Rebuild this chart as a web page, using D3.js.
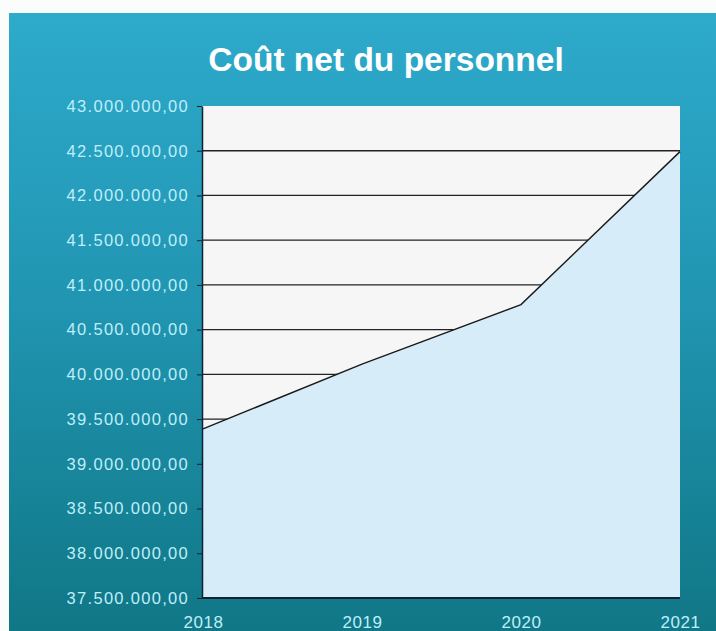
<!DOCTYPE html>
<html><head><meta charset="utf-8">
<script src="https://cdn.jsdelivr.net/npm/d3@7"></script>
<style>html,body{margin:0;padding:0;background:#fff;}svg{display:block;}</style>
</head><body>
<script>
const years = ["2018","2019","2020","2021"];
const values = [39390000, 40115000, 40780000, 42490000];
const yTicks = [37500000,38000000,38500000,39000000,39500000,40000000,40500000,41000000,41500000,42000000,42500000,43000000];
const title = "Coût net du personnel";

const W=716,H=631;
const svg=d3.select("body").append("svg").attr("width",W).attr("height",H);
const defs=svg.append("defs");
const g=defs.append("linearGradient").attr("id","bg").attr("x1",0).attr("y1",0).attr("x2",0).attr("y2",1);
g.append("stop").attr("offset","0%").attr("stop-color","#2eaacb");
g.append("stop").attr("offset","45%").attr("stop-color","#2196b3");
g.append("stop").attr("offset","100%").attr("stop-color","#107786");
svg.append("rect").attr("x",0).attr("y",0).attr("width",W).attr("height",H).attr("fill","#fbfdfd");
svg.append("rect").attr("x",9).attr("y",13).attr("width",W-9).attr("height",H-13).attr("fill","url(#bg)");

const L=202,R=680,T=106,B=598;
const x=d3.scalePoint().domain(years).range([L+1,R]);
const y=d3.scaleLinear().domain([37500000,43000000]).range([B,T]);

svg.append("rect").attr("x",L).attr("y",T).attr("width",R-L).attr("height",B-T).attr("fill","#f6f6f6");

const fmt=v=>d3.format(",.2f")(v).replace(/,/g,"X").replace(".",",").replace(/X/g,".");

// gridlines
svg.append("g").selectAll("line").data(yTicks.filter(v=>v>37500000&&v<43000000)).join("line")
  .attr("x1",L).attr("x2",R).attr("y1",d=>y(d)).attr("y2",d=>y(d))
  .attr("stroke","#222").attr("stroke-width",1.3);

const pts=years.map((yr,i)=>({yr,v:values[i]}));
svg.append("path").datum(pts)
  .attr("d",d3.area().x(d=>x(d.yr)).y0(B).y1(d=>y(d.v)))
  .attr("fill","#d6ecf9");
svg.append("path").datum(pts)
  .attr("d",d3.line().x(d=>x(d.yr)).y(d=>y(d.v)))
  .attr("fill","none").attr("stroke","#1a1a1a").attr("stroke-width",1.4);

// axes
const ya=svg.append("g").attr("transform",`translate(${L},0)`)
  .call(d3.axisLeft(y).tickValues(yTicks).tickFormat(fmt).tickSize(5).tickSizeOuter(0));
ya.select(".domain").attr("stroke","#123").attr("stroke-width",1.5);
ya.selectAll(".tick line").attr("stroke","#123");
ya.selectAll("text").attr("fill","#bfeefa").attr("font-family","Arial, 'Liberation Sans', sans-serif")
  .attr("font-size",16.5).attr("letter-spacing","1.3px").attr("x",-13);

const xa=svg.append("g").attr("transform",`translate(0,${B})`)
  .call(d3.axisBottom(x).tickSize(0).tickSizeOuter(0));
xa.select(".domain").attr("d",`M${L},0H${R}`).attr("stroke","#123").attr("stroke-width",1.8);
xa.selectAll("text").attr("fill","#bfeefa").attr("font-family","Arial, 'Liberation Sans', sans-serif")
  .attr("font-size",17).attr("letter-spacing","0.5px").attr("y",30).attr("dy",0);

svg.append("text").attr("x",386).attr("y",71).attr("text-anchor","middle")
  .attr("fill","#ffffff").attr("font-family","Arial, 'Liberation Sans', sans-serif")
  .attr("font-weight","bold").attr("font-size",33.5).text(title);
</script>
</body></html>
